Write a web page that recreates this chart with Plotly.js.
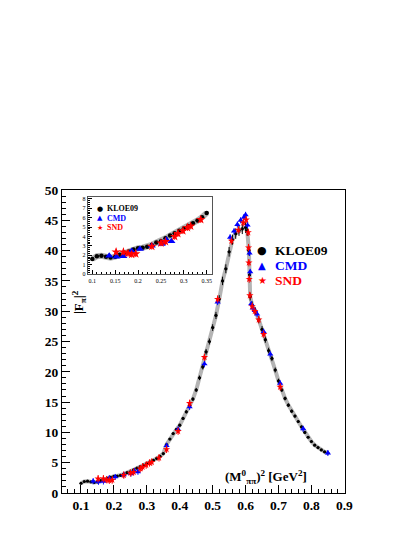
<!DOCTYPE html>
<html>
<head>
<meta charset="utf-8">
<script src="https://cdn.plot.ly/plotly-3.0.1.min.js"></script>
<style>html,body{margin:0;padding:0;background:#fff}</style>
</head>
<body>
<div id="chart" style="width:414px;height:535px"></div>
<script>
// KLOE09 |F_pi|^2 vs s (GeV^2)
const kloeX = [0.10,0.11,0.12,0.13,0.14,0.15,0.16,0.17,0.18,0.19,0.20,0.21,0.22,0.23,0.24,0.25,0.26,0.27,0.28,0.29,0.30,0.31,0.32,0.33,0.34,0.35,0.36,0.37,0.38,0.39,0.40,0.41,0.42,0.43,0.44,0.45,0.46,0.47,0.48,0.49,0.50,0.51,0.52,0.53,0.54,0.55,0.56,0.57,0.58,0.59,0.60,0.605,0.61,0.612,0.614,0.62,0.63,0.64,0.65,0.66,0.67,0.68,0.69,0.70,0.71,0.72,0.73,0.74,0.75,0.76,0.77,0.78,0.79,0.80,0.81,0.82,0.83,0.84,0.85];
const kloeY = [1.6,1.9,1.95,1.85,1.75,1.85,2.05,2.25,2.4,2.6,2.75,2.8,2.9,3.1,3.35,3.5,3.8,4.1,4.35,4.6,4.85,5.1,5.4,5.7,6.05,6.5,8.0,8.9,9.8,10.5,11.2,12.3,13.4,14.5,15.5,17.0,19.0,20.8,23.3,25.0,27.3,29.3,32.0,35.0,37.0,39.8,41.8,42.8,43.3,43.6,43.8,43.3,40.0,36.0,32.4,31.0,30.0,28.6,27.0,25.3,23.5,22.2,20.3,18.5,17.0,15.6,14.5,13.5,12.7,11.8,10.9,10.0,9.2,8.5,7.9,7.5,7.1,6.8,6.6];
// CMD
const cmdX = [0.137,0.153,0.168,0.186,0.204,0.23,0.252,0.262,0.273,0.36,0.395,0.43,0.475,0.515,0.553,0.565,0.575,0.585,0.595,0.600,0.606,0.612,0.614,0.617,0.622,0.628,0.635,0.655,0.675,0.705,0.775,0.85];
const cmdY = [1.95,1.85,1.9,2.45,2.65,3.0,3.2,3.65,3.5,7.8,10.5,14.2,21.3,31.5,42.2,43.2,44.3,45.0,45.5,45.9,44.2,39.6,36.5,31.2,30.5,30.1,29.5,26.6,22.9,18.1,10.6,6.6];
// SND
const sndX = [0.152,0.168,0.178,0.186,0.195,0.23,0.25,0.26,0.28,0.287,0.298,0.308,0.315,0.337,0.36,0.395,0.43,0.475,0.515,0.557,0.578,0.593,0.602,0.608,0.609,0.61,0.611,0.613,0.62,0.628,0.64,0.655,0.705];
const sndY = [2.35,2.35,2.2,2.1,2.15,2.95,3.3,3.45,4.0,4.3,4.6,4.95,5.1,5.8,7.2,10.2,14.8,22.4,32.0,41.6,43.4,44.6,45.1,43.0,40.5,38.0,35.3,32.6,30.8,30.0,28.6,26.2,17.5];
// tick labels
const mainXTicks = [0.1,0.2,0.3,0.4,0.5,0.6,0.7,0.8,0.9];
const mainYTicks = [0,5,10,15,20,25,30,35,40,45,50];
const insetXTicks = [0.1,0.15,0.2,0.25,0.3,0.35];
const insetYTicks = [0,1,2,3,4,5,6,7,8];
const seriesNames = ['KLOE09','CMD','SND'];
const insetMaxS = 0.35;

const serif = 'Liberation Serif, Times New Roman, serif';
const L = 62, R = 345, T = 190, B = 493;
function px(x, y) { return {x: (x - L) / (R - L), y: (B - y) / (B - T)}; }
function cut(xs, ys, xmax) {
  const ox = [], oy = [];
  xs.forEach((v, i) => { if (v <= xmax + 1e-9) { ox.push(v); oy.push(ys[i]); } });
  return [ox, oy];
}

const traces = [];
function addSet(xa, ya, inset) {
  const lim = inset ? insetMaxS : 10;
  const [kx, ky] = cut(kloeX, kloeY, lim);
  const [cx, cy] = cut(cmdX, cmdY, lim);
  const [sx, sy] = cut(sndX, sndY, lim);
  traces.push({x: kx, y: ky, xaxis: xa, yaxis: ya, mode: 'lines', type: 'scatter',
    line: {color: '#b4b4b4', width: inset ? 6 : 4},
    hoverinfo: 'skip', showlegend: false});
  traces.push({x: kx, y: ky, xaxis: xa, yaxis: ya, mode: 'markers', type: 'scatter', name: seriesNames[0],
    marker: {color: 'black', size: inset ? 4.5 : 3.2, symbol: 'circle'},
    error_x: {type: 'constant', value: 0.004, color: 'black', thickness: 1, width: 0},
    error_y: {type: 'percent', value: 2, color: 'black', thickness: 1, width: 0},
    showlegend: false});
  traces.push({x: cx, y: cy, xaxis: xa, yaxis: ya, mode: 'markers', type: 'scatter', name: seriesNames[1],
    marker: {color: '#0000ff', size: inset ? 7 : 5.5, symbol: 'triangle-up'},
    error_y: {type: 'constant', value: inset ? 0.15 : 0.5, color: '#0000ff', thickness: 1, width: 0},
    showlegend: false});
  traces.push({x: sx, y: sy, xaxis: xa, yaxis: ya, mode: 'markers', type: 'scatter', name: seriesNames[2],
    marker: {color: '#ff0000', size: inset ? 7 : 5.5, symbol: 'star'},
    error_y: {type: 'constant', value: inset ? 0.35 : 0.6, color: '#ff0000', thickness: 1, width: 0},
    showlegend: false});
}
addSet('x', 'y', false);
addSet('x2', 'y2', true);

const axBase = {showgrid: false, zeroline: false, showline: true, mirror: true, linecolor: 'black', linewidth: 1,
  ticks: 'inside', tickcolor: 'black'};

const ann = [];
function addText(x, y, text, opts) {
  const p = px(x, y);
  ann.push(Object.assign({xref: 'paper', yref: 'paper', x: p.x, y: p.y, text: text, showarrow: false,
    xanchor: 'left', yanchor: 'middle', font: {family: serif, size: 13, color: 'black', weight: 'bold'}}, opts || {}));
}
// main legend
const legCols = ['black', '#0000ff', '#ff0000'];
const legSyms = ['●', '▲', '★'];
const legRows = [250, 265.5, 280.5];
for (let i = 0; i < 3; i++) {
  addText(262, legRows[i], legSyms[i], {xanchor: 'center', font: {family: 'DejaVu Sans', size: i === 0 ? 11 : 10, color: legCols[i]}});
  addText(272.5, legRows[i], seriesNames[i], {font: {family: serif, size: 13.5, color: legCols[i], weight: 'bold'}});
}
// inset legend
const insRows = [208.5, 218.3, 227.7];
for (let i = 0; i < 3; i++) {
  addText(100, insRows[i], legSyms[i], {xanchor: 'center', font: {family: 'DejaVu Sans', size: 7, color: legCols[i]}});
  addText(104.5, insRows[i], seriesNames[i], {font: {family: serif, size: 8, color: legCols[i], weight: 'bold'}});
}
// axis titles
addText(79, 302, '|F<sub>π</sub>|<sup>2</sup>', {xanchor: 'center', textangle: -90, font: {family: serif, size: 13, color: 'black', weight: 'bold'}});
addText(266, 477, '(M<sup>0</sup><sub>ππ</sub>)<sup>2</sup> [GeV<sup>2</sup>]', {xanchor: 'center', font: {family: serif, size: 13, color: 'black', weight: 'bold'}});

const layout = {
  width: 414, height: 535,
  margin: {l: L, r: 414 - R, t: T, b: 535 - B, pad: 0},
  paper_bgcolor: 'white', plot_bgcolor: 'white',
  showlegend: false,
  xaxis: Object.assign({}, axBase, {domain: [0, 1], anchor: 'y', range: [0.0423, 0.902],
    tickvals: mainXTicks, ticktext: mainXTicks.map(v => v.toFixed(1)), ticklen: 8,
    minor: {dtick: 0.02, tick0: 0, ticks: 'inside', ticklen: 4, tickcolor: 'black'},
    tickfont: {family: serif, size: 13.5, color: 'black', weight: 'bold'}}),
  yaxis: Object.assign({}, axBase, {domain: [0, 1], anchor: 'x', range: [0, 50],
    tickvals: mainYTicks, ticktext: mainYTicks.map(String), ticklen: 8,
    minor: {dtick: 1, tick0: 0, ticks: 'inside', ticklen: 4, tickcolor: 'black'},
    tickfont: {family: serif, size: 13.5, color: 'black', weight: 'bold'}}),
  xaxis2: Object.assign({}, axBase, {domain: [px(88, 0).x, px(212, 0).x], anchor: 'y2', range: [0.0906, 0.3616],
    linecolor: '#555', linewidth: 1.3,
    tickvals: insetXTicks, ticktext: insetXTicks.map(String), ticklen: 4,
    minor: {dtick: 0.01, tick0: 0, ticks: 'inside', ticklen: 2, tickcolor: 'black'},
    tickfont: {family: serif, size: 6, color: 'black'}}),
  yaxis2: Object.assign({}, axBase, {domain: [px(0, 274).y, px(0, 197).y], anchor: 'x2', range: [0, 8.2],
    linecolor: '#555', linewidth: 1.3,
    tickvals: insetYTicks, ticktext: insetYTicks.map(String), ticklen: 4,
    minor: {dtick: 0.2, tick0: 0, ticks: 'inside', ticklen: 2, tickcolor: 'black'},
    tickfont: {family: serif, size: 6, color: 'black'}}),
  annotations: ann
};

Plotly.newPlot('chart', traces, layout, {displayModeBar: false, staticPlot: true});
</script>
</body>
</html>
